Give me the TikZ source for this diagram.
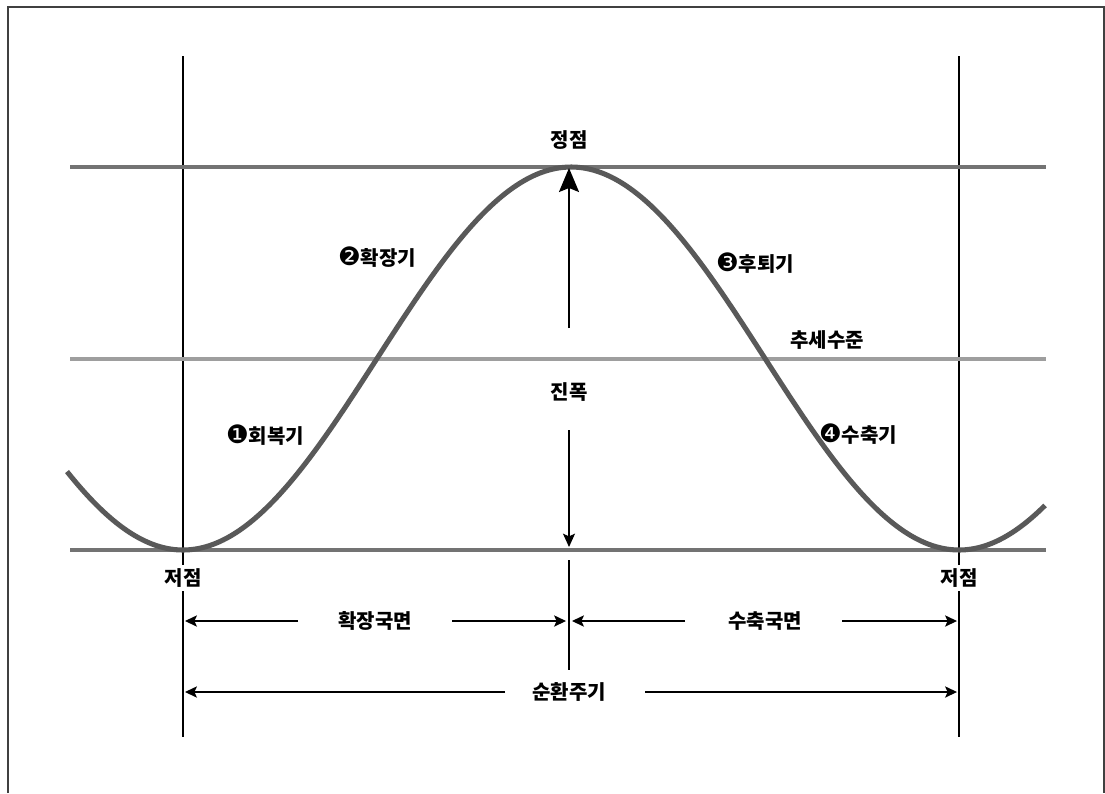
\documentclass[tikz,border=0pt]{standalone}
\usepackage{fontspec}
\setmainfont{Noto Sans CJK KR}
\newfontfamily\dvfont{DejaVu Sans}
\usetikzlibrary{arrows.meta}
\newcommand{\cn}[1]{{\dvfont\mdseries\fontsize{19}{18}\selectfont #1}}
\begin{document}
\begin{tikzpicture}[x=0.75pt,y=-0.75pt,
  lbl/.style={font=\fontsize{15}{18}\selectfont\bfseries, inner sep=1pt, text=black},
  vline/.style={line width=1.1pt, black},
  hline/.style={line width=2.3pt, color=gray!90!black},
  trendline/.style={line width=2.3pt, color=black!38},
  wave/.style={line width=3.8pt, color=black!65},
  dimarrow/.style={line width=0.9pt, -{Stealth[length=9pt,width=8.5pt,inset=2pt]}},
  bigarrow/.style={line width=1.5pt, -{Stealth[length=18pt,width=15pt,inset=3pt]}},
  downarrow/.style={line width=0.9pt, -{Stealth[length=10pt,width=9pt,inset=2pt]}},
  frame/.style={line width=1.5pt, color=black!75}
]
\useasboundingbox (0,0) rectangle (1105,793);
% frame
\draw[frame] (8,793) -- (8,7) -- (1104,7) -- (1104,793);
% vertical lines
\coordinate (L1) at (183,56); \coordinate (L2) at (183,737);
\coordinate (R1) at (959,56); \coordinate (R2) at (959,737);
\coordinate (M1) at (569,560); \coordinate (M2) at (569,670);
\draw[vline] (L1) -- (L2);
\draw[vline] (R1) -- (R2);
\draw[vline] (M1) -- (M2);
% horizontal lines
\coordinate (T1) at (70,167); \coordinate (T2) at (1046,167);
\coordinate (C1) at (70,359); \coordinate (C2) at (1046,359);
\coordinate (B1) at (70,550); \coordinate (B2) at (1046,550);
\draw[hline] (T1) -- (T2);
\draw[trendline] (C1) -- (C2);
\draw[hline] (B1) -- (B2);
% wave
\draw[wave, line cap=butt] plot[domain=67:1045, samples=220, smooth] (\x, {358.5+191.5*cos(0.4639175*(\x-183))});
% amplitude arrows
\coordinate (upS) at (569,328); \coordinate (upE) at (569,168);
\coordinate (dnS) at (569,430); \coordinate (dnE) at (569,547);
\draw[bigarrow] (upS) -- (upE);
\draw[downarrow] (dnS) -- (dnE);
% labels
\node[lbl] (peak) at (569,140) {정점};
\node[lbl] (amp) at (569,392) {진폭};
\node[lbl] (exp2) at (377,257) {\cn{❷}확장기};
\node[lbl] (rec3) at (755,263) {\cn{❸}후퇴기};
\node[lbl] (trend) at (827,340) {추세수준};
\node[lbl] (rec1) at (265,435) {\cn{❶}회복기};
\node[lbl] (con4) at (858,434) {\cn{❹}수축기};
\node[lbl, fill=white, inner ysep=3pt] (troughL) at (183,578) {저점};
\node[lbl, fill=white, inner ysep=3pt] (troughR) at (959,578) {저점};
\node[lbl] (expph) at (375,621) {확장국면};
\node[lbl] (conph) at (765,621) {수축국면};
\node[lbl] (cycle) at (569,692) {순환주기};
% dimension arrows
\coordinate (a1s) at (298,621); \coordinate (a1e) at (185,621);
\coordinate (a2s) at (452,621); \coordinate (a2e) at (566,621);
\coordinate (a3s) at (685,621); \coordinate (a3e) at (572,621);
\coordinate (a4s) at (842,621); \coordinate (a4e) at (957,621);
\coordinate (a5s) at (505,692); \coordinate (a5e) at (185,692);
\coordinate (a6s) at (645,692); \coordinate (a6e) at (957,692);
\draw[dimarrow] (a1s) -- (a1e);
\draw[dimarrow] (a2s) -- (a2e);
\draw[dimarrow] (a3s) -- (a3e);
\draw[dimarrow] (a4s) -- (a4e);
\draw[dimarrow] (a5s) -- (a5e);
\draw[dimarrow] (a6s) -- (a6e);
\end{tikzpicture}
\end{document}
